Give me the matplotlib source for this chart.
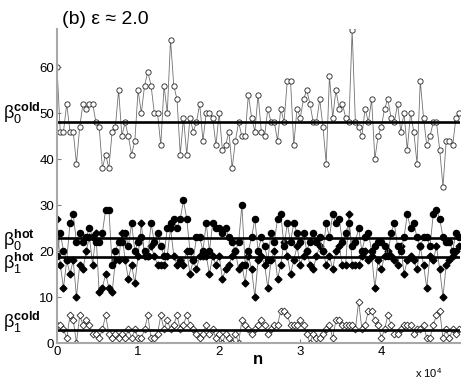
import numpy as np
import matplotlib
matplotlib.use("Agg")
import matplotlib.pyplot as plt

plt.rcParams['font.family'] = ['Liberation Sans', 'DejaVu Sans']
plt.rcParams['mathtext.fontset'] = 'custom'
plt.rcParams['mathtext.rm'] = 'Liberation Sans'
plt.rcParams['mathtext.it'] = 'Liberation Sans:italic'
plt.rcParams['mathtext.bf'] = 'Liberation Sans:bold'

# sample index: one sample every 400 steps
step = 400
n_points = 125

beta0_cold = [60, 46, 46, 52, 46, 46, 39, 47, 52, 51, 52, 52, 48, 47, 38, 41, 38, 46, 47, 55,
              45, 48, 45, 41, 44, 55, 50, 56, 59, 56, 50,
              50, 43, 56, 50, 66, 56, 53, 41, 49, 41, 49, 46, 48, 52, 44, 50, 50, 49, 43, 50,
              42, 43, 46, 38, 44, 48, 45, 45, 54, 49, 46,
              54, 46, 45, 51, 48, 48, 44, 51, 48, 57, 57, 43, 51, 49, 53, 55, 52, 48, 48, 53,
              47, 39, 58, 49, 55, 51, 52, 49, 48, 68,
              48, 47, 45, 51, 48, 53, 40, 45, 47, 51, 53, 49, 48, 52, 46, 50, 42, 50, 46, 39,
              57, 49, 43, 45, 48, 48, 42, 34, 44, 44, 43, 49, 50]

beta0_hot = [19, 24, 20, 18, 26, 28, 22, 24, 22, 23,
             25, 23, 22, 22, 24, 29, 29, 17, 20, 22,
             22, 24, 21, 26, 20, 22, 23, 20, 19, 26,
             22, 24, 21, 19, 25, 26, 27, 25, 27, 31,
             27, 20, 18, 23, 23, 20, 26, 20, 26, 25,
             25, 24, 25, 23, 22, 20, 22, 30, 17, 20,
             23, 27, 20, 23, 21, 18, 24, 22, 27, 28,
             21, 26, 22, 26, 24, 22, 24, 20, 22, 24,
             22, 23, 20, 26, 23, 28, 26, 27, 22, 24,
             26, 21, 22, 25, 20, 23, 24, 20, 21, 22,
             22, 21, 19, 24, 26, 21, 20, 23, 28, 25,
             26, 23, 21, 23, 23, 21, 28, 29, 27, 23,
             22, 22, 20, 24, 23]

beta1_hot = [27, 17, 12, 18, 15, 18, 10, 17, 16, 20,
             23, 17, 24, 11, 12, 15, 12, 11, 18, 18,
             24, 18, 14, 17, 13, 19, 26, 19, 19, 21,
             19, 17, 17, 17, 19, 25, 19, 17, 18, 17,
             20, 15, 18, 16, 19, 19, 19, 15, 19, 17,
             19, 14, 16, 17, 19, 20, 16, 17, 13, 19,
             16, 10, 18, 19, 17, 12, 18, 20, 14, 17,
             22, 19, 15, 18, 21, 17, 19, 20, 17, 16,
             19, 21, 20, 17, 19, 16, 20, 21, 17, 17,
             28, 17, 17, 17, 19, 20, 18, 19, 12, 18,
             16, 19, 20, 19, 18, 17, 21, 15, 18, 19,
             18, 16, 21, 17, 12, 19, 18, 21, 16, 10,
             17, 18, 19, 20, 21]

beta1_cold = [4, 4, 3, 1, 6, 5, 0, 6, 4, 5, 4, 2, 2, 1, 3, 6, 2, 1, 2, 1,
              2, 1, 3, 1, 3, 1, 1, 3, 6, 1, 1, 2, 6, 3, 5, 3, 4, 6, 3, 4,
              6, 4, 3, 2, 1, 2, 4, 2, 3, 1, 2, 0, 2, 1, 0, 2, 0,
              5, 4, 3, 2, 3, 4, 5, 4, 2, 3, 4, 4, 7, 7, 6, 4, 4, 4, 5, 4,
              2, 0, 2, 1, 1, 2, 3, 4, 1, 5, 5, 4, 4, 4, 4, 3, 9, 3, 4, 7,
              7, 5, 4, 1, 3, 6, 4, 2, 2, 3, 4, 4, 4, 2, 3, 3, 4, 1, 1, 4,
              6, 7, 1, 3, 1, 3, 2, 3]

# time averages drawn as horizontal lines
mean_levels = [48.0, 22.8, 18.7, 2.9]

n = np.arange(n_points) * step

fig = plt.figure(figsize=(4.63, 3.81), dpi=100)
ax = fig.add_axes([57 / 463, 1 - 343 / 381, 403 / 463, 314 / 381])

line_kw = dict(color='#707070', linewidth=0.6)
ax.plot(n, beta0_cold, marker='o', markersize=3.8, markerfacecolor='white',
        markeredgecolor='#202020', markeredgewidth=0.6, **line_kw)
ax.plot(n, beta1_hot, marker='D', markersize=3.5, markerfacecolor='black',
        markeredgecolor='black', **line_kw)
ax.plot(n, beta0_hot, marker='o', markersize=4.4, markerfacecolor='black',
        markeredgecolor='black', **line_kw)
ax.plot(n, beta1_cold, marker='D', markersize=3.5, markerfacecolor='white',
        markeredgecolor='#202020', markeredgewidth=0.6, **line_kw)

for level in mean_levels:
    ax.plot([n[0], n[-1]], [level, level], color='black', linewidth=1.9)

ax.set_xlim(0, 49700)
ax.set_ylim(0, 68.3)
ax.set_xticks([0, 10000, 20000, 30000, 40000])
ax.set_xticklabels(['0', '1', '2', '3', '4'])
ax.set_yticks([0, 10, 20, 30, 40, 50, 60])
ax.tick_params(direction='in', length=3, labelsize=9.5, color='#808080', pad=2)

for side in ['top', 'right']:
    ax.spines[side].set_visible(False)
for side in ['left', 'bottom']:
    ax.spines[side].set_color('#a8a8a8')
    ax.spines[side].set_linewidth(1.5)

fig.text(258 / 463, 1 - 359 / 381, 'n', fontsize=12, fontweight='bold',
         ha='center', va='center')
fig.text(415 / 463, 1 - 373 / 381, r'x 10$^{4}$', fontsize=8, va='center')
fig.text(62 / 463, 1 - 20 / 381, '(b) ε ≈ 2.0', fontsize=14, va='center')

labels = [(r'$\mathrm{β}_{0}^{\mathbf{cold}}$', 113),
          (r'$\mathrm{β}_{0}^{\mathbf{hot}}$', 240),
          (r'$\mathrm{β}_{1}^{\mathbf{hot}}$', 263),
          (r'$\mathrm{β}_{1}^{\mathbf{cold}}$', 322)]
for text, ypix in labels:
    fig.text(3 / 463, 1 - ypix / 381, text, fontsize=13, va='center', ha='left')

fig.savefig('out.png', dpi=100, facecolor='white')
